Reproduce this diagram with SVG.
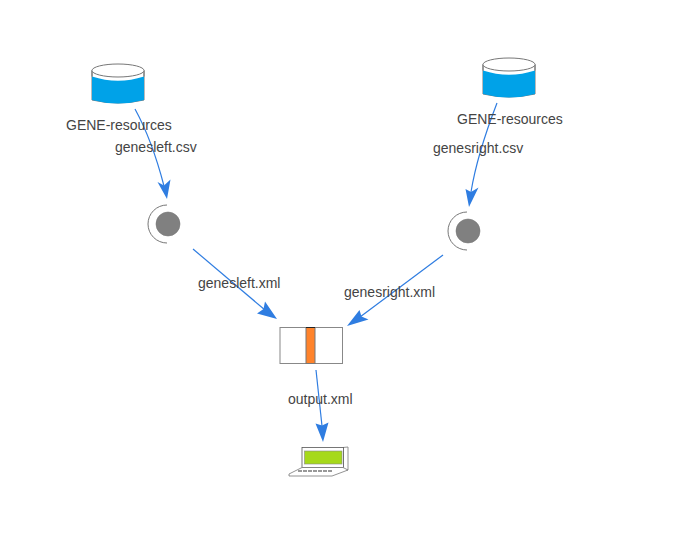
<svg xmlns="http://www.w3.org/2000/svg" width="690" height="551" viewBox="0 0 690 551">
<style>
text{font-family:"Liberation Sans",Arial,sans-serif;font-size:14px;fill:#444}
.c{fill:none;stroke:#2f7de1;stroke-width:1.2}
.h{fill:#2f7de1;stroke:none}
.o{fill:none;stroke:#777;stroke-width:1}
.b{fill:#00a2e8;stroke:none}
.g{fill:#808080;stroke:#777;stroke-width:.6}
</style>
<defs>
<g id="db">
<path d="M0,6.500 V36 Q26,42 52,36 V6.500" fill="#fff" stroke="#777"/>
<path class="b" d="M0,12.500 Q26,21 52,12.500 V36 Q26,43 0,36 Z"/>
<path d="M0,6.500 V12.500 M52,6.500 V12.500" stroke="#777" fill="none"/>
<ellipse cx="26" cy="6.500" rx="26" ry="6.500" fill="#fff" stroke="#777"/>
</g>
<g id="proc">
<path class="o" d="M18,0 A19,19 0 0 0 18,38"/>
<circle class="g" cx="19" cy="19" r="12"/>
</g>
</defs>
<rect width="690" height="551" fill="#fff"/>
<g id="connectors">
<path class="c" d="M135,109 Q152,140 164,186"/><path class="h" d="M167,199 L157.500,182 L164,185.500 L170.500,179.500 Z"/>
<path class="c" d="M497,103 Q477,155 471,192"/><path class="h" d="M469,207 L465.500,189 L471,192 L478.500,187.500 Z"/>
<path class="c" d="M193,249 L265,310"/><path class="h" d="M277,319 L257,313.500 L263.500,309 L265,301.500 Z"/>
<path class="c" d="M443,255 L360,317"/><path class="h" d="M347,326 L359.500,310 L361.500,316.500 L368.500,319.500 Z"/>
<path class="c" d="M316,370 L322,426"/><path class="h" d="M323,442 L315.500,423.500 L322,425.500 L328.500,422.500 Z"/>
</g>
<g id="node-gene-left"><use href="#db" x="92" y="64"/><text x="66" y="130">GENE-resources</text></g>
<g id="node-gene-right"><use href="#db" x="483" y="58"/><text x="457" y="124">GENE-resources</text></g>
<g id="node-proc-left"><use href="#proc" x="149" y="205"/></g>
<g id="node-proc-right"><use href="#proc" x="449" y="212"/></g>
<g id="node-join">
<rect x="280" y="327.500" width="62.500" height="36" fill="#fff" stroke="#888"/>
<rect x="306" y="327.500" width="9" height="36" fill="#ff832b" stroke="#777"/>
<path d="M306,327.500 H315" stroke="#222" fill="none"/>
</g>
<g id="node-laptop">
<path d="M343,447.500 L348,447 V470 L343,470 Z" fill="#fff" stroke="#777" stroke-width=".8"/>
<rect x="302" y="447.500" width="41.500" height="20" fill="#fff" stroke="#555" stroke-width=".8"/>
<path d="M302,467.500 H343 L348,470 L332,476 H289 L289,474 Z" fill="#fff" stroke="#777" stroke-width=".8"/>
<path d="M298,471 H333" stroke="#777" stroke-width="1.500" stroke-dasharray="4 1" fill="none"/>
<rect x="304.500" y="451" width="37.500" height="13" fill="#a6d91a" stroke="#888" stroke-width=".6"/>
</g>
<g id="labels">
<text x="115" y="152">genesleft.csv</text>
<text x="433" y="153">genesright.csv</text>
<text x="198" y="288">genesleft.xml</text>
<text x="344" y="297">genesright.xml</text>
<text x="288" y="404">output.xml</text>
</g>
</svg>
